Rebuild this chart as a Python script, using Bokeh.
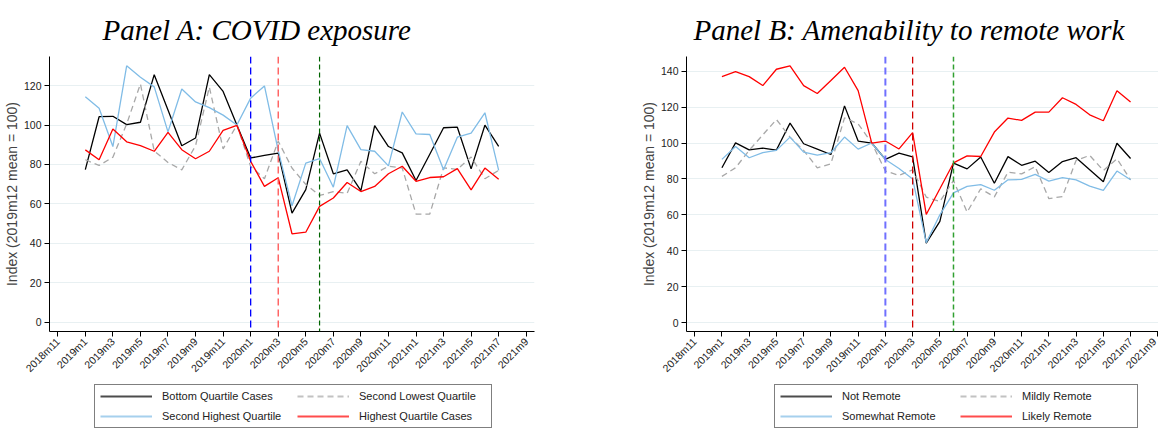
import math
from bokeh.plotting import figure
from bokeh.layouts import row, column
from bokeh.models import FixedTicker, Span, Legend, LegendItem
from bokeh.embed import file_html
from bokeh.resources import INLINE

# tick labels on the x axis (every second month)
tick_labels = ["2018m11", "2019m1", "2019m3", "2019m5", "2019m7", "2019m9", "2019m11",
               "2020m1", "2020m3", "2020m5", "2020m7", "2020m9", "2020m11",
               "2021m1", "2021m3", "2021m5", "2021m7", "2021m9"]

months = ["2019m1", "2019m2", "2019m3", "2019m4", "2019m5", "2019m6", "2019m7", "2019m8",
          "2019m9", "2019m10", "2019m11", "2019m12",
          "2020m1", "2020m2", "2020m3", "2020m4", "2020m5", "2020m6", "2020m7", "2020m8",
          "2020m9", "2020m10", "2020m11", "2020m12",
          "2021m1", "2021m2", "2021m3", "2021m4", "2021m5", "2021m6", "2021m7"]

# Panel A: COVID exposure
bottom_quartile = [77.4, 104.2, 104.4, 100.2, 101.4, 125.5, 107.6, 89.5, 93.4, 125.5, 117.0, 100.0,
                   83.3, 84.6, 85.8, 55.4, 67.3, 95.9, 75.3, 77.3, 66.8, 99.7, 89.1, 85.9,
                   71.9, 85.2, 98.6, 98.9, 77.8, 99.9, 89.2]
second_lowest = [82.4, 79.5, 83.7, 100.5, 120.8, 86.9, 81.0, 77.3, 89.5, 119.2, 87.9, 100.0,
                 79.0, 72.8, 91.8, 78.2, 69.9, 64.3, 66.2, 65.4, 81.6, 75.3, 79.1, 78.2,
                 54.9, 54.9, 78.3, 77.5, 83.8, 72.8, 77.0]
second_highest = [114.3, 108.5, 89.1, 130.0, 124.2, 119.3, 96.5, 118.2, 111.7, 108.8, 105.0, 100.0,
                  113.6, 119.8, 87.0, 59.1, 80.7, 83.0, 68.5, 99.7, 87.5, 86.7, 79.3, 106.6,
                  95.5, 95.2, 77.3, 93.8, 95.9, 106.2, 77.0]
highest_quartile = [87.4, 82.4, 98.0, 91.5, 89.6, 86.7, 96.3, 87.5, 82.9, 86.7, 97.3, 99.8,
                    81.6, 68.9, 73.3, 44.9, 45.7, 58.8, 63.0, 70.9, 66.3, 68.9, 75.3, 79.1,
                    71.5, 73.4, 73.8, 77.9, 67.1, 78.2, 72.5]

# Panel B: Amenability to remote work
not_remote = [86.2, 100.1, 96.2, 97.2, 96.1, 111.1, 99.6, 96.6, 93.6, 120.7, 101.1, 100.0,
              90.9, 94.4, 92.3, 44.2, 56.3, 88.8, 85.6, 92.2, 77.6, 92.4, 87.6, 89.9,
              83.6, 89.7, 91.8, 85.1, 78.4, 99.9, 91.4]
mildly_remote = [81.4, 86.2, 95.9, 104.5, 113.1, 103.3, 95.9, 86.2, 88.4, 114.0, 110.7, 100.0,
                 84.4, 82.0, 85.0, 69.9, 67.4, 79.1, 61.5, 74.5, 70.0, 83.7, 82.8, 86.8,
                 69.0, 70.2, 90.3, 93.1, 84.7, 91.2, 79.5]
somewhat_remote = [90.9, 98.1, 91.8, 94.6, 95.9, 103.3, 94.9, 93.3, 94.6, 103.3, 96.6, 100.0,
                   90.8, 85.8, 80.0, 44.5, 60.0, 72.2, 75.8, 76.8, 73.7, 79.5, 79.7, 82.5,
                   78.8, 80.7, 79.5, 76.0, 73.6, 84.4, 79.5]
likely_remote = [137.0, 139.8, 137.0, 132.0, 141.1, 143.0, 132.0, 127.6, 134.8, 142.2, 129.2, 99.9,
                 101.1, 96.7, 105.8, 60.2, 74.5, 88.9, 92.8, 92.5, 106.1, 113.9, 112.6, 117.2,
                 117.2, 125.2, 121.5, 115.7, 112.4, 129.1, 122.8]

events = ["2020m1", "2020m3", "2020m6"]

SANS = "Liberation Sans"


# month label -> months since 2018m11
def month_pos(label):
    y, m = label.split("m")
    return (int(y) - 2018) * 12 + int(m) - 11


def make_panel(title, title_offset, series, x_end, y_range, y_ticks, frame_w,
               border_left, border_right, event_styles, legend_x, legend_label_w):
    p = figure(frame_width=frame_w, frame_height=275,
               x_range=(-0.6, x_end), y_range=y_range,
               output_backend="svg", toolbar_location=None,
               min_border_left=border_left, min_border_right=border_right,
               min_border_top=48, min_border_bottom=50)
    p.outline_line_color = None
    p.background_fill_color = "white"

    p.title.text = title
    p.title.text_font = "Liberation Serif"
    p.title.text_font_style = "italic"
    p.title.text_font_size = "29px"
    p.title.text_color = "black"
    p.title.align = "left"
    p.title.offset = title_offset
    p.title.standoff = 22

    x = [month_pos(m) for m in months]
    for name, vals, color, dash in series:
        p.line(x, vals, line_color=color, line_width=1.3, line_dash=dash)

    for ev, color, dash, width in zip(events, *zip(*event_styles)):
        p.add_layout(Span(location=month_pos(ev), dimension="height", line_color=color,
                          line_dash=dash, line_width=width))

    p.xgrid.visible = False
    p.ygrid.grid_line_color = "#e8f0f2"
    p.ygrid.grid_line_width = 1.2
    p.ygrid.ticker = FixedTicker(ticks=y_ticks)

    p.xaxis.ticker = FixedTicker(ticks=[month_pos(t) for t in tick_labels])
    p.xaxis.major_label_overrides = {month_pos(t): t for t in tick_labels}
    p.xaxis.major_label_orientation = math.pi / 4
    p.yaxis.ticker = FixedTicker(ticks=y_ticks)
    p.yaxis.axis_label = "Index (2019m12 mean = 100)"
    p.yaxis.axis_label_text_font = SANS
    p.yaxis.axis_label_text_font_style = "normal"
    p.yaxis.axis_label_text_font_size = "14px"
    p.yaxis.axis_label_standoff = 1
    for ax in (p.xaxis, p.yaxis):
        ax.axis_line_color = "black"
        ax.major_tick_line_color = "black"
        ax.major_tick_out = 5
        ax.major_tick_in = 0
        ax.minor_tick_line_color = None
        ax.major_label_text_font = SANS
        ax.major_label_text_font_size = "10.5px"
        ax.major_label_text_color = "#222222"
        ax.major_label_standoff = 3

    # legend lives in its own strip under the chart (its lines fall outside the strip's range)
    lg = figure(width=frame_w + border_left + border_right, height=50,
                x_range=(-100, -99), y_range=(0, 1), x_axis_type=None, y_axis_type=None,
                output_backend="svg", toolbar_location=None,
                min_border_left=0, min_border_right=0, min_border_top=0, min_border_bottom=0)
    lg.outline_line_color = None
    lg.grid.visible = False
    items = []
    for name, vals, color, dash in series:
        r = lg.line(x, vals, line_color=color, line_width=1.8, line_dash=dash, line_alpha=0.7)
        items.append(LegendItem(label=name, renderers=[r]))
    legend = Legend(items=items, orientation="horizontal", ncols=2, location=(legend_x, 3))
    legend.label_text_font = SANS
    legend.label_text_font_size = "11px"
    legend.label_text_color = "#222222"
    legend.glyph_width = 52
    legend.glyph_height = 12
    legend.label_height = 12
    legend.label_width = legend_label_w
    legend.label_standoff = 10
    legend.spacing = 8
    legend.padding = 5
    legend.margin = 0
    legend.border_line_color = "black"
    legend.border_line_width = 1
    lg.add_layout(legend, "center")
    return column(p, lg, spacing=0)


pa = make_panel("Panel A: COVID exposure", 53,
                [("Bottom Quartile Cases", bottom_quartile, "black", "solid"),
                 ("Second Lowest Quartile", second_lowest, "#a8a8a8", "6 4"),
                 ("Second Highest Quartile", second_highest, "#80bce6", "solid"),
                 ("Highest Quartile Cases", highest_quartile, "#ff0000", "solid")],
                34.6, (-4.6, 134.7), [0, 20, 40, 60, 80, 100, 120], 485, 47, 50,
                [("#0000ff", "7 4", 1.3), ("#ff5050", "7 4", 1.3), ("#006400", "5 3", 1.2)],
                45, 127)

pb = make_panel("Panel B: Amenability to remote work", 7,
                [("Not Remote", not_remote, "black", "solid"),
                 ("Mildly Remote", mildly_remote, "#a8a8a8", "6 4"),
                 ("Somewhat Remote", somewhat_remote, "#80bce6", "solid"),
                 ("Likely Remote", likely_remote, "#ff0000", "solid")],
                34.05, (-5.0, 148.2), [0, 20, 40, 60, 80, 100, 120, 140], 472, 102, 0,
                [("#7070ff", "7 4", 2.0), ("#d00000", "7 4", 1.3), ("#30a030", "5 3", 1.5)],
                88, 110)

layout = row(pa, pb)
open("out.html", "w").write(file_html(layout, INLINE))
